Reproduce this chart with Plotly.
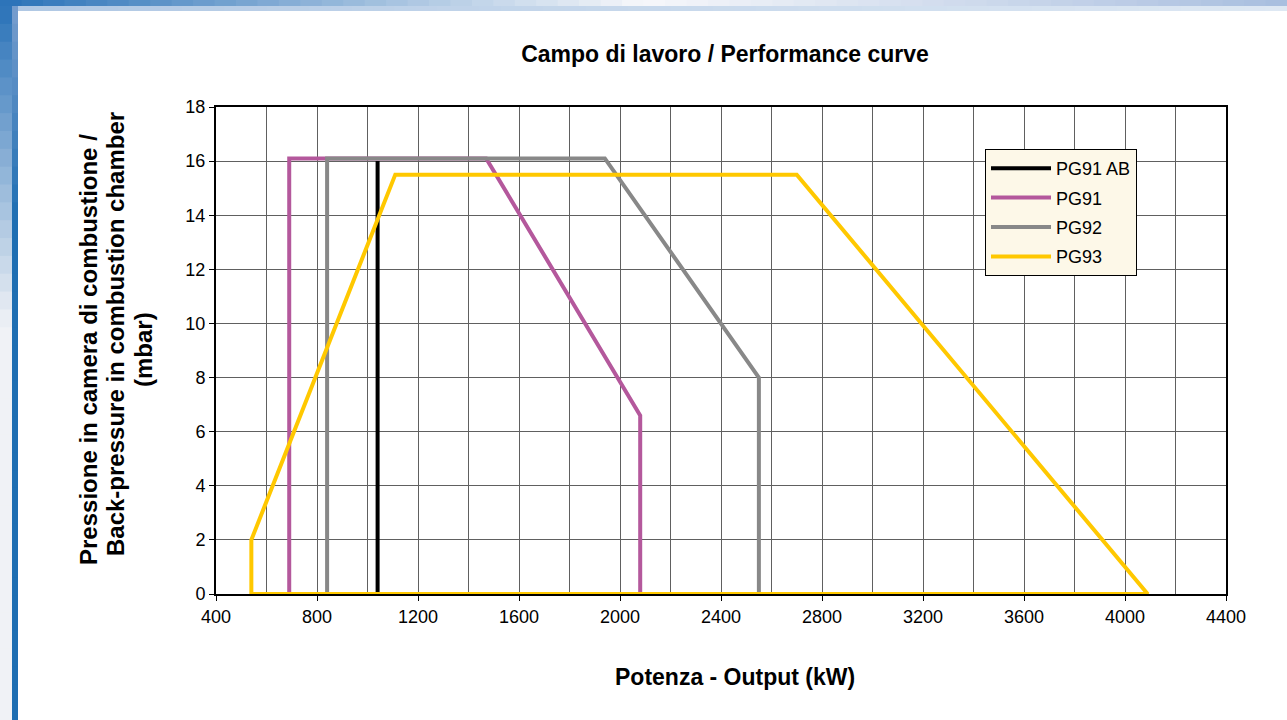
import plotly.graph_objects as go

# ---- data ----
pg91ab_x = [1040, 1040]
pg91ab_y = [0, 16]

pg91_x = [690, 690, 1470, 2080, 2080, 690]
pg91_y = [0, 16.1, 16.1, 6.6, 0, 0]

pg92_x = [840, 840, 1940, 2550, 2550, 840]
pg92_y = [0, 16.1, 16.1, 8, 0, 0]

pg93_x = [540, 540, 1110, 2700, 4090, 540]
pg93_y = [0, 2, 15.5, 15.5, 0, 0]

series = [
    ("PG91 AB", pg91ab_x, pg91ab_y, "#000000"),
    ("PG91", pg91_x, pg91_y, "#B4589C"),
    ("PG92", pg92_x, pg92_y, "#888888"),
    ("PG93", pg93_x, pg93_y, "#FFC800"),
]

title_text = "Campo di lavoro / Performance curve"
x_title = "Potenza - Output (kW)"
y_title_lines = ["Pressione in camera di combustione /",
                 "Back-pressure in combustion chamber",
                 "(mbar)"]

W, H = 1287, 720
ML, MR, MT, MB = 216, 61, 107, 126
PW, PH = W - ML - MR, H - MT - MB

def px(x):
    return (x - ML) / PW

def py(y):
    return (H - MB - y) / PH

def lerp(c1, c2, t):
    return "rgb(%d,%d,%d)" % tuple(int(round(a + (b - a) * t)) for a, b in zip(c1, c2))

fig = go.Figure()
for i, (name, xs, ys, col) in enumerate(series):
    fig.add_trace(go.Scatter(
        x=xs, y=ys, mode="lines", name=name,
        line=dict(color=col, width=4), legendgroup=name,
    ))

shapes = []
# top gradient band
n = 60
blue = (42, 114, 184)
white = (246, 247, 250)
rightc = (168, 190, 223)
for i in range(n):
    x0 = W * i / n
    x1 = W * (i + 1) / n + 1
    t = (i + 0.5) / n
    if t < 0.5:
        c = lerp(blue, white, t / 0.5)
    else:
        c = lerp(white, rightc, (t - 0.5) / 0.5)
    shapes.append(dict(type="rect", xref="paper", yref="paper", x0=px(x0), x1=px(x1),
                       y0=py(0), y1=py(6), fillcolor=c, line=dict(width=0), layer="below"))
# light strip under top band
for i in range(n):
    x0 = 12 + (W - 12) * i / n
    x1 = 12 + (W - 12) * (i + 1) / n + 1
    t = (i + 0.5) / n
    c = lerp((176, 200, 228), (222, 232, 243), t)
    shapes.append(dict(type="rect", xref="paper", yref="paper", x0=px(x0), x1=px(x1),
                       y0=py(6), y1=py(11), fillcolor=c, line=dict(width=0), layer="below"))
# left gradient band
m = 40
for i in range(m):
    y0 = 6 + (H - 6) * i / m
    y1 = 6 + (H - 6) * (i + 1) / m + 1
    t = (i + 0.5) / m
    c = lerp(blue, (240, 242, 246), min(1, t / 0.45))
    shapes.append(dict(type="rect", xref="paper", yref="paper", x0=px(0), x1=px(12),
                       y0=py(y0), y1=py(y1), fillcolor=c, line=dict(width=0), layer="below"))
# left blue bar
for i in range(m):
    y0 = 6 + (H - 6) * i / m
    y1 = 6 + (H - 6) * (i + 1) / m + 1
    t = (i + 0.5) / m
    c = lerp((120, 158, 206), (30, 110, 178), min(1, t / 0.3))
    shapes.append(dict(type="rect", xref="paper", yref="paper", x0=px(12), x1=px(18),
                       y0=py(y0), y1=py(y1), fillcolor=c, line=dict(width=0), layer="below"))

FONT = "Arial, Liberation Sans, sans-serif"

annotations = [dict(text="<b>%s</b>" % x_title, xref="paper", yref="paper",
                    x=px(735), y=py(677), xanchor="center", yanchor="middle",
                    showarrow=False, font=dict(size=23, family=FONT, color="black"))]
for txt, cx, cy in zip(y_title_lines, [88, 115, 143], [350, 334, 350]):
    annotations.append(dict(text="<b>%s</b>" % txt, xref="paper", yref="paper",
                            x=px(cx), y=py(cy), xanchor="center", yanchor="middle",
                            textangle=-90, showarrow=False,
                            font=dict(size=24, family=FONT, color="black")))

fig.update_layout(
    width=W, height=H,
    margin=dict(l=ML, r=MR, t=MT, b=MB, autoexpand=False),
    paper_bgcolor="white", plot_bgcolor="white",
    font=dict(family=FONT, color="black", size=18),
    shapes=shapes,
    title=dict(text="<b>%s</b>" % title_text, xref="container", x=725 / W, xanchor="center",
               y=1 - 54 / H, yanchor="middle", font=dict(size=23, family=FONT, color="black")),
    legend=dict(x=px(985), y=py(149), xanchor="left", yanchor="top",
                bgcolor="#FDF8E8", bordercolor="black", borderwidth=1, itemwidth=60,
                font=dict(size=18, family=FONT, color="black"), tracegroupgap=3),
    xaxis=dict(range=[400, 4400], dtick=400, tick0=400, showgrid=True, gridcolor="#606060",
               gridwidth=1, zeroline=False, showline=True, linecolor="black", linewidth=2,
               mirror=True, ticks="outside", ticklen=5, tickcolor="black",
               minor=dict(dtick=200, showgrid=True, gridcolor="#606060", gridwidth=1),
               tickfont=dict(size=18, family=FONT, color="black")),
    yaxis=dict(range=[0, 18], dtick=2, showgrid=True, gridcolor="#606060", gridwidth=1,
               zeroline=False, showline=True, linecolor="black", linewidth=2, mirror=True,
               ticks="outside", ticklen=5, tickcolor="black",
               tickfont=dict(size=18, family=FONT, color="black")),
    annotations=annotations,
)

fig.write_html("out.html", config={"displayModeBar": False},
               post_script="document.body.style.margin='0';document.body.style.overflow='hidden';")
